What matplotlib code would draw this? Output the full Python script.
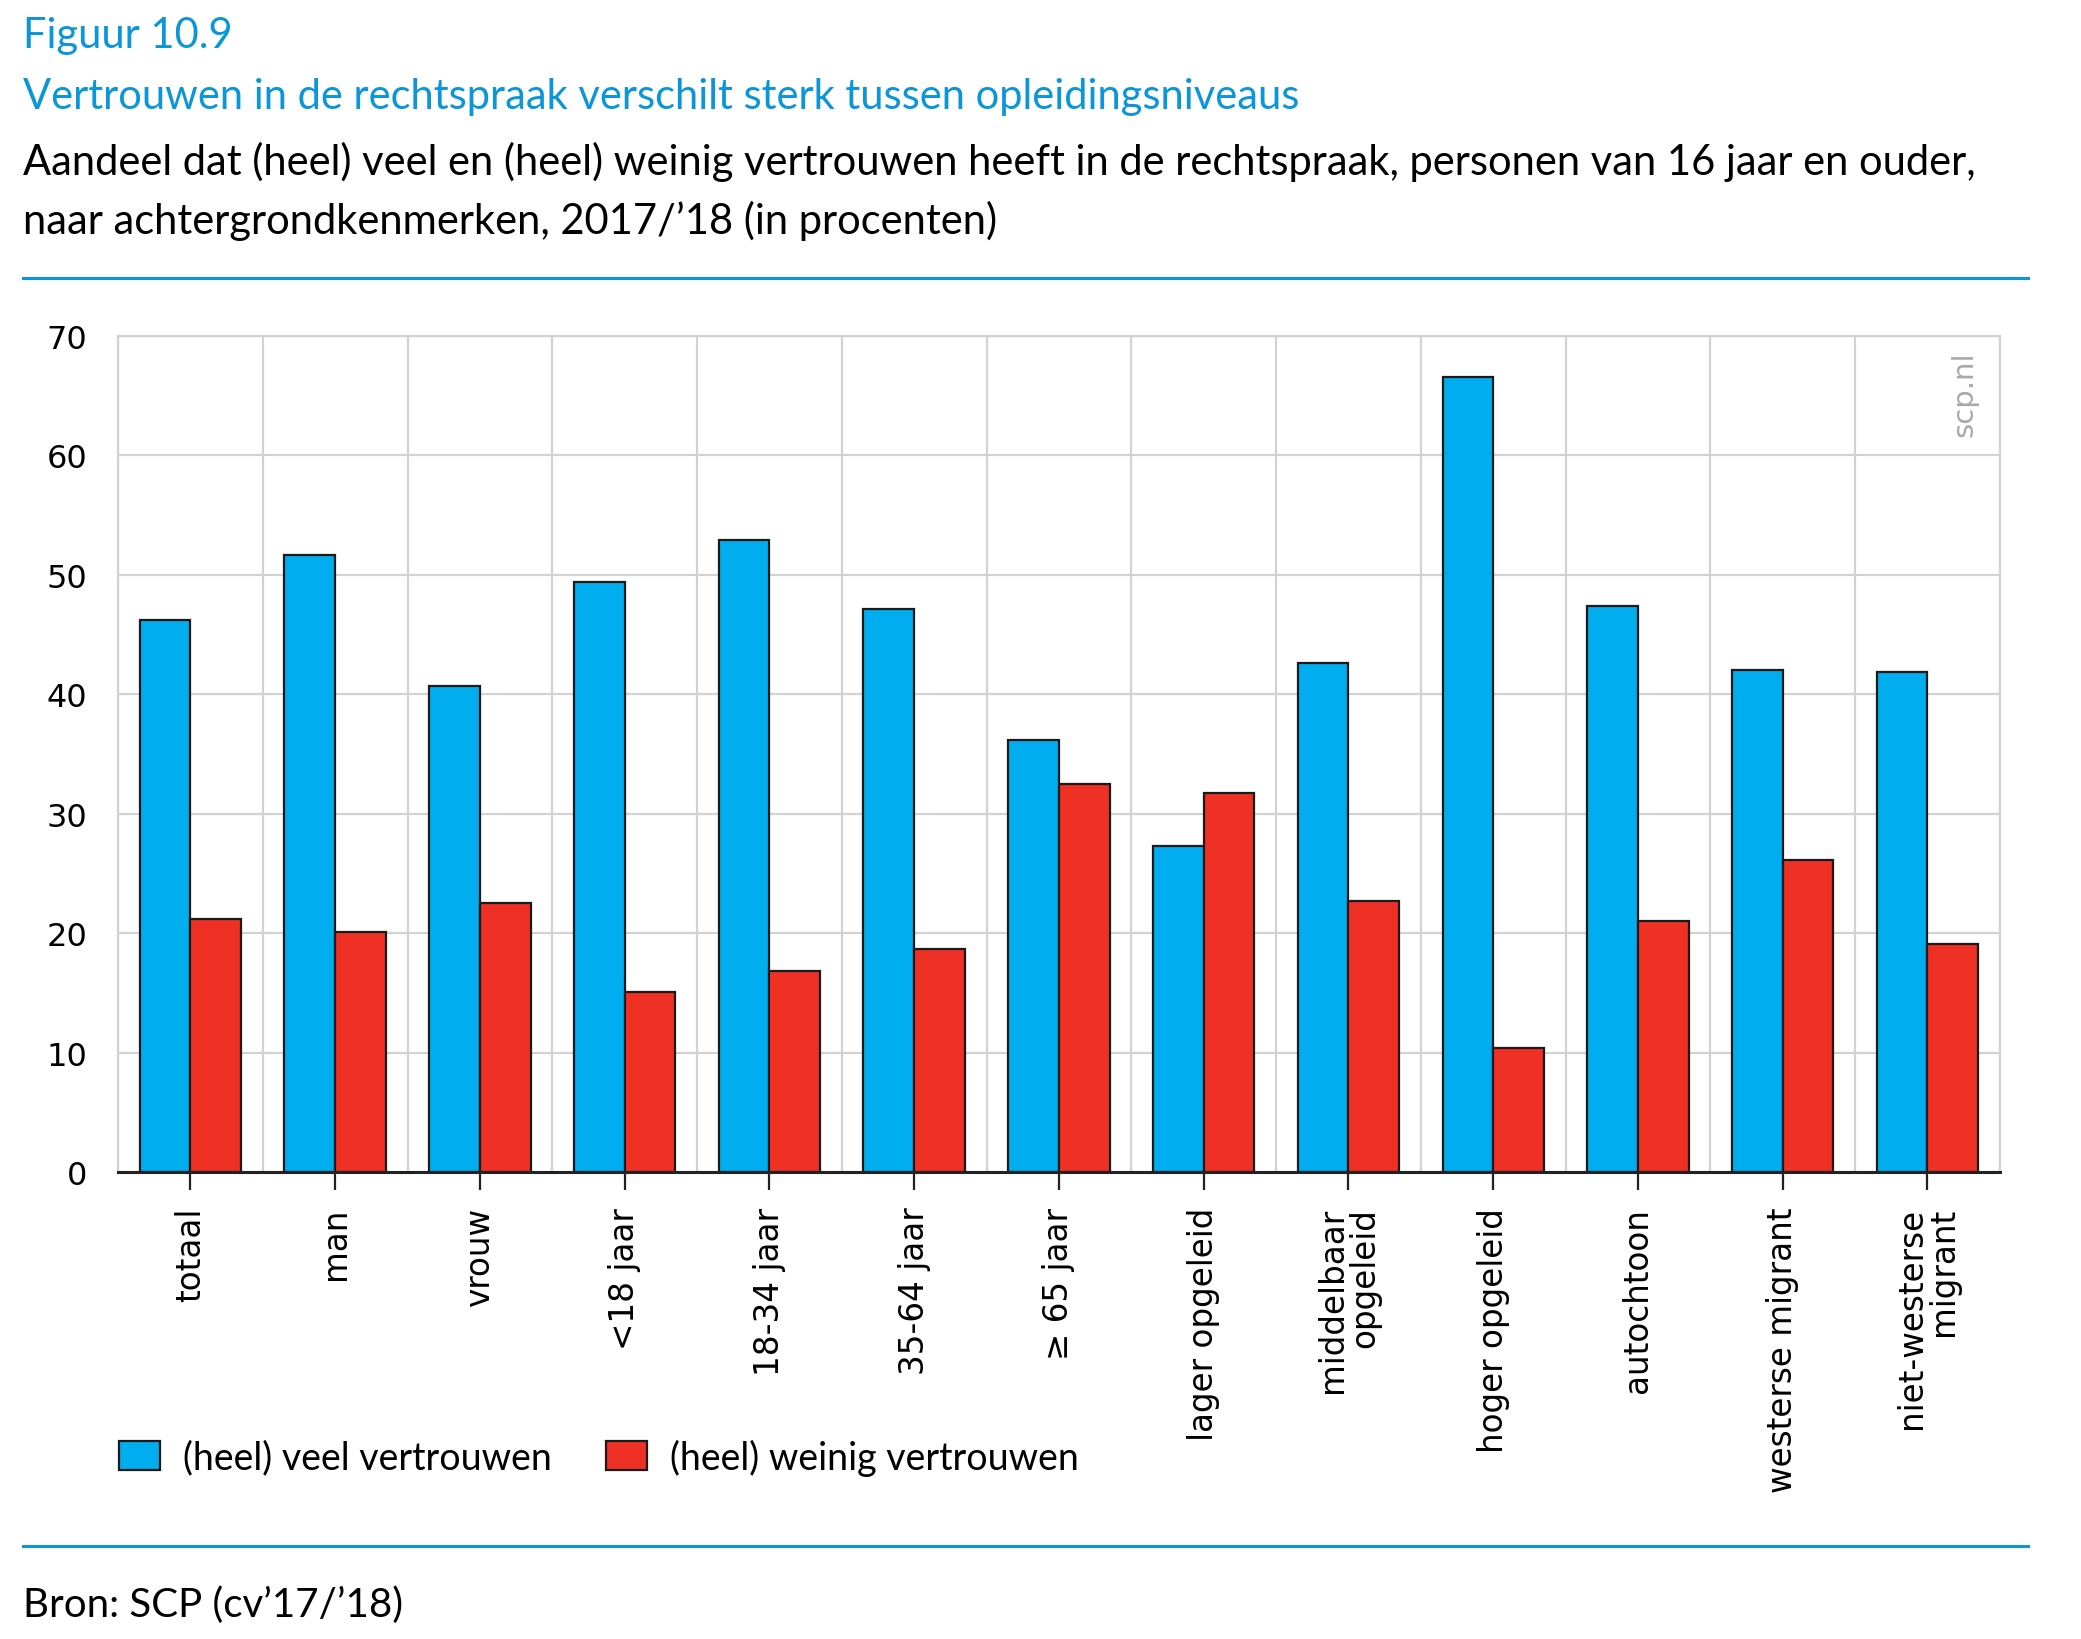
import matplotlib
matplotlib.use("Agg")
import matplotlib.pyplot as plt
import numpy as np

# data (percentages)
categories = ["totaal", "man", "vrouw", "<18 jaar", "18-34 jaar", "35-64 jaar",
              "\u2265 65 jaar", "lager opgeleid", "middelbaar\nopgeleid",
              "hoger opgeleid", "autochtoon", "westerse migrant",
              "niet-westerse\nmigrant"]
veel = [46.2, 51.7, 40.7, 49.4, 52.9, 47.1, 36.2, 27.3, 42.6, 66.6, 47.4, 42.0, 41.9]
weinig = [21.2, 20.1, 22.5, 15.1, 16.8, 18.7, 32.5, 31.7, 22.7, 10.4, 21.0, 26.1, 19.1]
series_labels = ["(heel) veel vertrouwen", "(heel) weinig vertrouwen"]
yticks = [0, 10, 20, 30, 40, 50, 60, 70]

blue = "#00aeef"
red = "#ee3124"
scp_blue = "#0a96d8"
grid_gray = "#d2d2d2"
title_font = ["Lato", "DejaVu Sans"]

fig = plt.figure(figsize=(20.81, 16.40), dpi=100)
ax = fig.add_axes([0.0567, 0.2848, 0.9043, 0.5097])

x = np.arange(len(categories))
w = 0.35
b1 = ax.bar(x - w / 2, veel, w, color=blue, edgecolor="#1a1a1a", linewidth=1.6,
            label=series_labels[0], zorder=3)
b2 = ax.bar(x + w / 2, weinig, w, color=red, edgecolor="#1a1a1a", linewidth=1.6,
            label=series_labels[1], zorder=3)

ax.set_xlim(-0.5, len(categories) - 0.5)
ax.set_ylim(0, 70)
ax.set_yticks(yticks)
ax.set_xticks(x)
ax.set_xticklabels(categories, rotation=90, fontsize=23.5, family="DejaVu Sans",
                   va="top", ha="center", multialignment="right",
                   linespacing=0.95)
ax.set_xticks(np.arange(len(categories) + 1) - 0.5, minor=True)
ax.tick_params(axis="x", which="major", length=13, width=1.6, color="#222222",
               pad=12, direction="out")
ax.tick_params(axis="x", which="minor", length=0)
ax.tick_params(axis="y", length=0, pad=22, labelsize=23)
for lab in ax.get_yticklabels():
    lab.set_family("DejaVu Sans")

ax.grid(axis="y", which="major", color=grid_gray, linewidth=1.6, zorder=0)
ax.grid(axis="x", which="minor", color=grid_gray, linewidth=1.6, zorder=0)
ax.grid(axis="x", which="major", visible=False)
for side in ["top", "right", "left"]:
    ax.spines[side].set_color(grid_gray)
    ax.spines[side].set_linewidth(1.6)
ax.spines["bottom"].set_color("#222222")
ax.spines["bottom"].set_linewidth(2.2)
ax.spines["bottom"].set_zorder(4)

ax.text(0.981, 0.932, "scp.nl", transform=ax.transAxes, rotation=90,
        fontsize=21, color="#a8a8a8", ha="center", va="center",
        family="DejaVu Sans")

# header
fig.text(0.0109, 0.978, "Figuur 10.9", fontsize=30, color=scp_blue,
         family=title_font, va="center", ha="left")
fig.text(0.0109, 0.941, "Vertrouwen in de rechtspraak verschilt sterk tussen opleidingsniveaus",
         fontsize=30, color=scp_blue, family=title_font, va="center", ha="left")
fig.text(0.0109, 0.901, "Aandeel dat (heel) veel en (heel) weinig vertrouwen heeft in de rechtspraak, personen van 16 jaar en ouder,",
         fontsize=30, color="black", family=title_font, va="center", ha="left")
fig.text(0.0109, 0.865, "naar achtergrondkenmerken, 2017/\u201918 (in procenten)",
         fontsize=30, color="black", family=title_font, va="center", ha="left")
fig.add_artist(plt.Line2D([0.0109, 0.9745], [0.830, 0.830], color=scp_blue,
                          linewidth=2.2, transform=fig.transFigure))
fig.add_artist(plt.Line2D([0.0109, 0.9745], [0.0567, 0.0567], color=scp_blue,
                          linewidth=2.2, transform=fig.transFigure))
fig.text(0.0109, 0.021, "Bron: SCP (cv\u201917/\u201918)", fontsize=29,
         color="black", family=title_font, va="center", ha="left")

leg = fig.legend(handles=[b1, b2], labels=series_labels, loc="center left",
                 bbox_to_anchor=(0.041, 0.111), ncol=2, frameon=False,
                 prop={"family": title_font, "size": 27},
                 handlelength=1.1, handleheight=0.8, handletextpad=0.6,
                 columnspacing=1.45)

fig.savefig("out.png", dpi=100)
